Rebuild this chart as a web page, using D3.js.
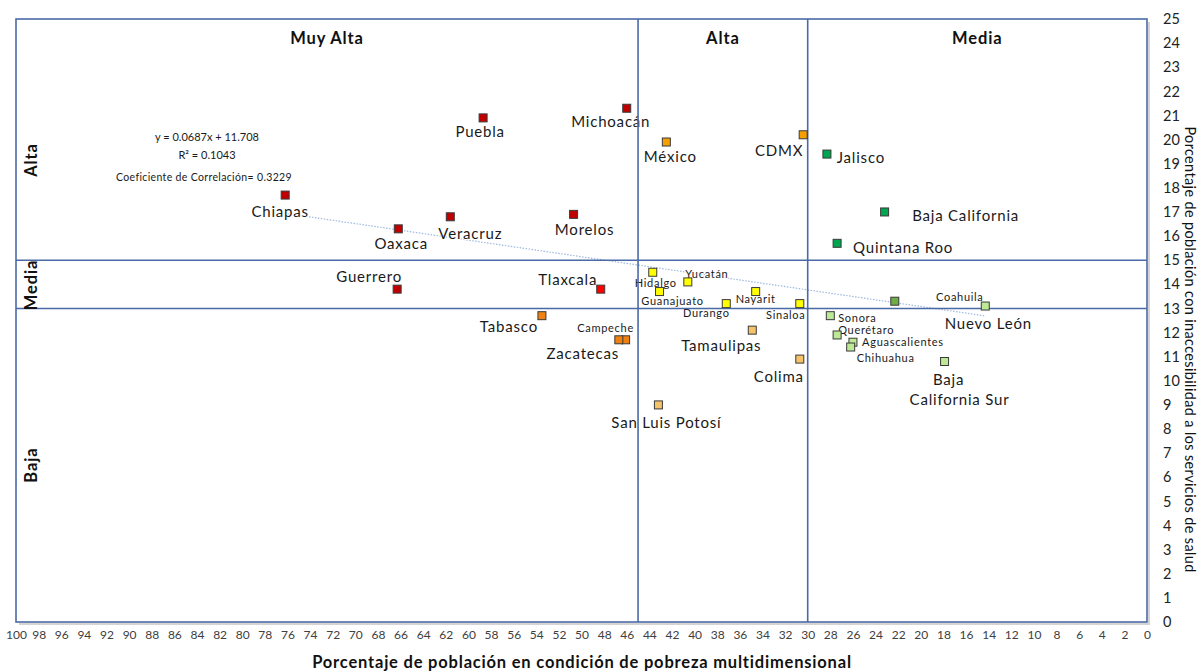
<!DOCTYPE html>
<html>
<head>
<meta charset="utf-8">
<script src="https://cdnjs.cloudflare.com/ajax/libs/d3/7.8.5/d3.min.js"></script>
<style>
  body { margin: 0; background: #fff; }
  svg text { font-family: Lato, "Open Sans", sans-serif; }
</style>
</head>
<body>
<svg id="viz" width="1200" height="671"></svg>
<script>
// Pobreza vs inaccesibilidad a salud, por entidad

var estados = ["Chiapas", "Oaxaca", "Veracruz", "Puebla", "Morelos", "Michoacán", "Guerrero", "Tlaxcala",
    "Tabasco", "Campeche", "Zacatecas", "México", "CDMX", "Jalisco", "Baja California", "Quintana Roo",
    "Hidalgo", "Yucatán", "Guanajuato", "Durango", "Nayarit", "Sinaloa", "Tamaulipas", "Colima",
    "San Luis Potosí", "Coahuila", "Nuevo León", "Sonora", "Querétaro", "Aguascalientes", "Chihuahua",
    "Baja California Sur"];
var pobreza = [76.2, 66.2, 61.6, 58.7, 50.7, 46.0, 66.3, 48.3,
    53.5, 46.1, 46.7, 42.5, 30.4, 28.3, 23.2, 27.4,
    43.7, 40.6, 43.1, 37.2, 34.6, 30.7, 34.9, 30.7,
    43.2, 22.3, 14.3, 28.0, 27.4, 26.0, 26.2,
    17.9];
var salud = [17.7, 16.3, 16.8, 20.9, 16.9, 21.3, 13.8, 13.8,
    12.7, 11.7, 11.7, 19.9, 20.2, 19.4, 17.0, 15.7,
    14.5, 14.1, 13.7, 13.2, 13.7, 13.2, 12.1, 10.9,
    9.0, 13.3, 13.1, 12.7, 11.9, 11.6, 11.4,
    10.8];
var grupo = ["rojoOscuro", "rojoOscuro", "rojoOscuro", "rojoOscuro", "rojoOscuro", "rojoOscuro", "rojoOscuro", "rojo",
    "naranja", "naranja", "naranja", "ambar", "ambar", "verde", "verde", "verde",
    "amarillo", "amarillo", "amarillo", "amarillo", "amarillo", "amarillo", "arena", "arena",
    "arena", "oliva", "verdeClaro", "verdeClaro", "verdeClaro", "verdeClaro", "verdeClaro",
    "verdeClaro"];

var xTicks = d3.range(0, 101, 2);
var yTicks = d3.range(0, 26, 1);
var cortesX = [45, 30];
var cortesY = [15, 13];
var columnas = ["Muy Alta", "Alta", "Media"];
var filas = ["Alta", "Media", "Baja"];
var pendiente = 0.0687, intercepto = 11.708;
var textoRegresion = ["y = 0.0687x + 11.708", "R² = 0.1043"];
var textoCorrelacion = "Coeficiente de Correlación= 0.3229";

// label placement (px offsets from marker) and small-label flag
var etiquetaOffset = [[-5, 17], [3, 15], [20, 17], [-3, 14], [11, 15], [-16, 14], [-28, -12], [-33, -9],
    [-33, 11], [-20, -12], [-36, 14], [4, 15], [-24, 16], [34, 4], [81, 4], [66, 4],
    [3, 11], [19, -8], [13, 10], [-20, 10], [0, 8], [-14, 12], [-31, 16], [-21, 18],
    [8, 18], [65, -4], [3, 18], [27, 2], [29, -5], [50, 0], [35, 11],
    [4, 18]];
var chicas = new Set(["Hidalgo", "Yucatán", "Guanajuato", "Durango", "Nayarit", "Sinaloa", "Campeche",
    "Coahuila", "Sonora", "Querétaro", "Aguascalientes", "Chihuahua"]);

var color = d3.scaleOrdinal()
    .domain(["rojoOscuro", "rojo", "naranja", "ambar", "amarillo", "arena", "verde", "oliva", "verdeClaro"])
    .range(["#c00000", "#ff0000", "#f08010", "#f5a000", "#ffff00", "#f5c36a", "#00a550", "#70ad47", "#bde896"]);

var svg = d3.select("#viz");
var x = d3.scaleLinear().domain([100, 0]).range([16, 1147]);
var y = d3.scaleLinear().domain([0, 25]).range([622, 19]);
var azul = "#4a6aa5";

var data = estados.map((e, i) => ({
    estado: e, x: pobreza[i], y: salud[i], g: grupo[i], off: etiquetaOffset[i]
}));

// frame shadow
svg.append("path")
    .attr("d", `M${x(100) + 3},${y(0) + 2}H${x(0) + 2}V${y(25) + 3}`)
    .attr("fill", "none").attr("stroke", "#d4d4d4").attr("stroke-width", 2);

// trendline
var xMin = d3.min(pobreza), xMax = d3.max(pobreza);
svg.append("line")
    .attr("x1", x(xMax)).attr("y1", y(pendiente * xMax + intercepto))
    .attr("x2", x(xMin)).attr("y2", y(pendiente * xMin + intercepto))
    .attr("stroke", "#9db8e0").attr("stroke-width", 1.2)
    .attr("stroke-dasharray", "1.5,1.5");

// labels with white halo
var etiquetas = svg.append("g");
data.forEach(d => {
    var px = x(d.x) + d.off[0], py = y(d.y) + d.off[1];
    var small = chicas.has(d.estado);
    var lines = d.estado === "Baja California Sur" ? ["Baja", "California Sur"] : [d.estado];
    lines.forEach((t, k) => {
        etiquetas.append("text")
            .attr("x", px + (k ? 11 : 0)).attr("y", py + k * 20)
            .attr("dy", "0.35em")
            .attr("text-anchor", "middle")
            .attr("font-size", small ? 11 : 15)
            .attr("letter-spacing", small ? 0.7 : 0.8)
            .attr("fill", "#1a1a1a")
            .attr("stroke", "#fff").attr("stroke-width", 2)
            .attr("paint-order", "stroke")
            .text(t);
    });
});

// frame and quadrant lines
svg.append("rect")
    .attr("x", x(100)).attr("y", y(25))
    .attr("width", x(0) - x(100)).attr("height", y(0) - y(25))
    .attr("fill", "none").attr("stroke", azul).attr("stroke-width", 1.6);
svg.selectAll("line.cx").data(cortesX).enter().append("line")
    .attr("class", "cx")
    .attr("x1", d => x(d)).attr("x2", d => x(d))
    .attr("y1", y(25)).attr("y2", y(0))
    .attr("stroke", azul).attr("stroke-width", 1.6);
svg.selectAll("line.cy").data(cortesY).enter().append("line")
    .attr("class", "cy")
    .attr("x1", x(100)).attr("x2", x(0))
    .attr("y1", d => y(d)).attr("y2", d => y(d))
    .attr("stroke", azul).attr("stroke-width", 1.6);

// markers
var s = 8;
svg.append("g").selectAll("rect")
    .data(data).enter().append("rect")
    .attr("x", d => x(d.x) - s / 2).attr("y", d => y(d.y) - s / 2)
    .attr("width", s).attr("height", s)
    .attr("fill", d => color(d.g))
    .attr("stroke", "#3a3a3a").attr("stroke-width", 1);

// column headings
svg.selectAll("text.col").data(columnas).enter().append("text")
    .attr("class", "col")
    .attr("x", (d, i) => [327, (x(45) + x(30)) / 2, x(15)][i])
    .attr("y", 38).attr("dy", "0.35em")
    .attr("text-anchor", "middle")
    .attr("font-size", 16.5).attr("font-weight", "bold").attr("letter-spacing", 0.9).attr("fill", "#111")
    .text(d => d);

// row headings
var filaCentros = [160, 285, 465];
svg.selectAll("text.fila").data(filas).enter().append("text")
    .attr("class", "fila")
    .attr("transform", (d, i) => `translate(31,${filaCentros[i]}) rotate(-90)`)
    .attr("dy", "0.35em")
    .attr("text-anchor", "middle")
    .attr("font-size", 16.5).attr("font-weight", "bold").attr("letter-spacing", 0.9).attr("fill", "#111")
    .text(d => d);

// regression texts
svg.selectAll("text.reg").data(textoRegresion).enter().append("text")
    .attr("class", "reg")
    .attr("x", 207).attr("y", (d, i) => 137 + i * 18).attr("dy", "0.35em")
    .attr("text-anchor", "middle").attr("font-size", 11).attr("fill", "#1a1a1a")
    .text(d => d);
svg.append("text")
    .attr("x", 204).attr("y", 177).attr("dy", "0.35em")
    .attr("text-anchor", "middle").attr("font-size", 10.5).attr("letter-spacing", 0.35).attr("fill", "#1a1a1a")
    .text(textoCorrelacion);

// axes
var xAxis = d3.axisBottom(x).tickValues(xTicks).tickSize(0).tickPadding(6).tickFormat(d3.format("d"));
var gx = svg.append("g").attr("transform", `translate(0,${y(0) + 2})`).call(xAxis);
gx.select(".domain").remove();
gx.selectAll("text").attr("font-size", 12).attr("fill", "#404040").style("font-family", "Lato, sans-serif");

var yAxis = d3.axisRight(y).tickValues(yTicks).tickSize(0).tickPadding(16);
var gy = svg.append("g").attr("transform", `translate(${x(0)},0)`).call(yAxis);
gy.select(".domain").remove();
gy.selectAll("text").attr("font-size", 14.5).attr("fill", "#222").style("font-family", "Lato, sans-serif");

// axis titles
svg.append("text")
    .attr("x", 582).attr("y", 662).attr("dy", "0.35em")
    .attr("text-anchor", "middle").attr("font-size", 16.5).attr("font-weight", "bold")
    .attr("letter-spacing", 0.8).attr("fill", "#111")
    .text("Porcentaje de población en condición de pobreza multidimensional");
svg.append("text")
    .attr("transform", `translate(1190,${(y(0) + y(25)) / 2 + 29}) rotate(90)`)
    .attr("dy", "0.35em")
    .attr("text-anchor", "middle").attr("font-size", 14.5).attr("letter-spacing", 0.35).attr("fill", "#111")
    .text("Porcentaje de población con inaccesibilidad a los servicios de salud");
</script>
</body>
</html>
